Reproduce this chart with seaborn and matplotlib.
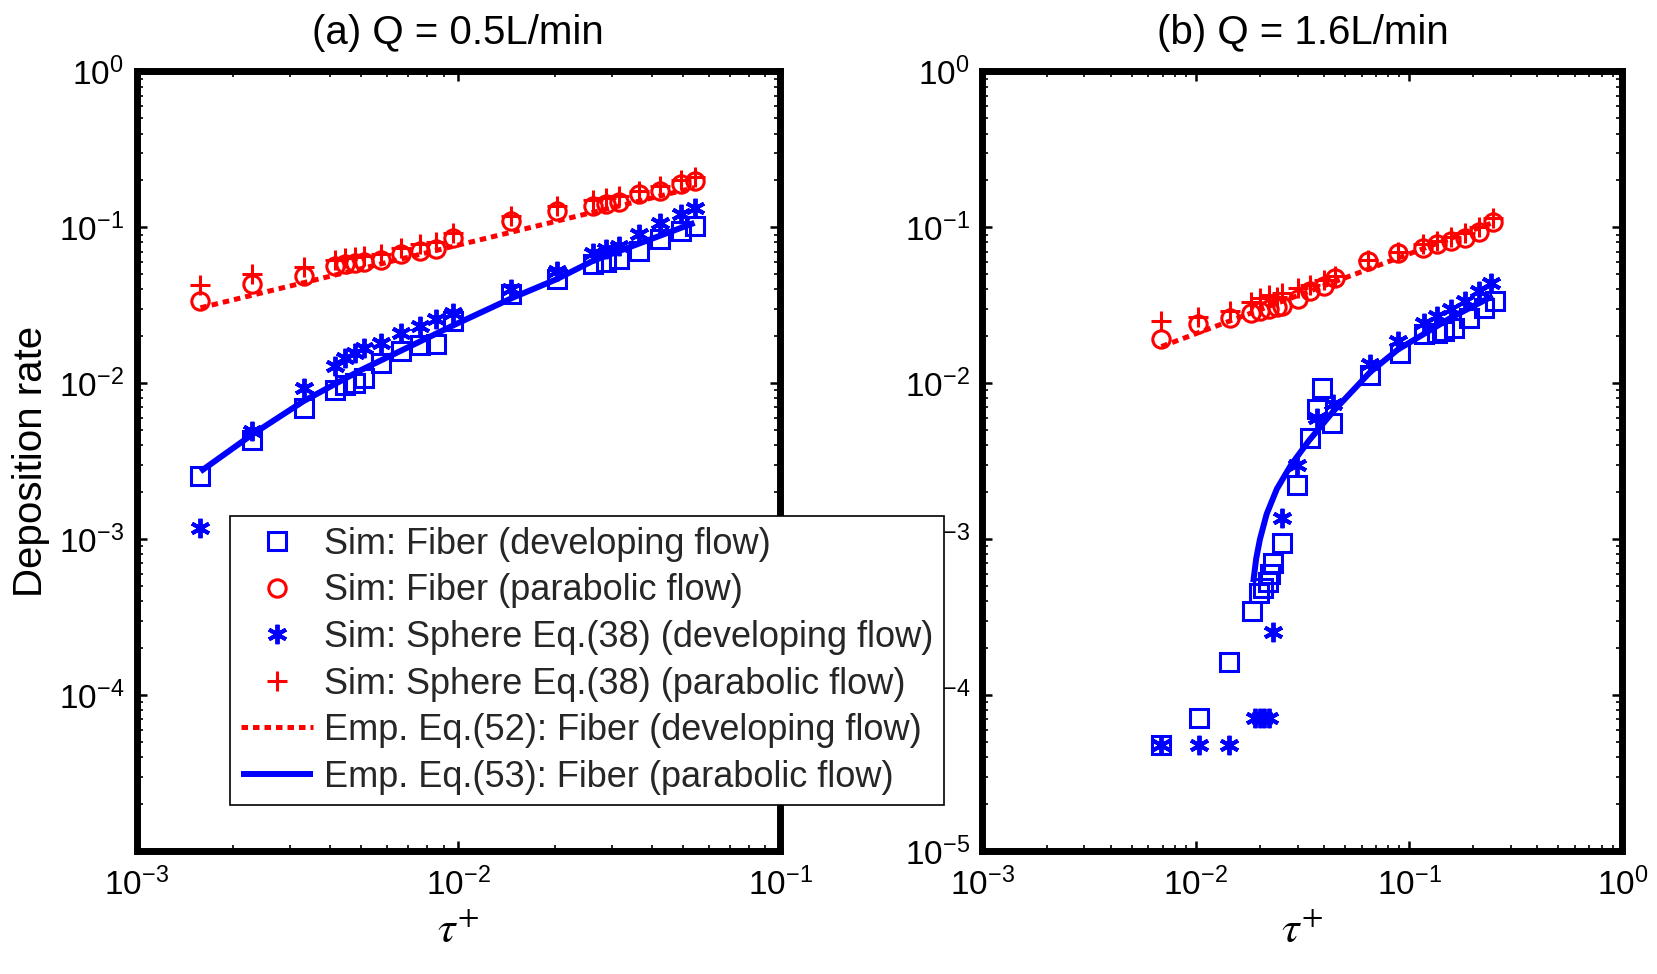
import numpy as np
import pandas as pd
import matplotlib
matplotlib.use("Agg")
import matplotlib.pyplot as plt
import seaborn as sns
from matplotlib.ticker import FixedLocator, FixedFormatter, LogLocator, NullFormatter

# ---------------- data ----------------
# (a) Q = 0.5 L/min
tau_a = [0.00158, 0.00229, 0.00331, 0.00414, 0.00445, 0.00478, 0.0051, 0.00573, 0.00665,
         0.0076, 0.0085, 0.0096, 0.01455, 0.0202, 0.0262, 0.0288, 0.0315, 0.0364, 0.0424,
         0.0492, 0.0542]
fiber_dev_a = [0.00253, 0.00435, 0.00695, 0.0091, 0.0098, 0.0100, 0.0108, 0.0135, 0.0161,
               0.0177, 0.0178, 0.025, 0.0373, 0.0465, 0.058, 0.060, 0.063, 0.0706, 0.084,
               0.095, 0.102]
fiber_par_a = [0.0337, 0.0431, 0.0488, 0.0566, 0.0580, 0.0590, 0.0600, 0.0620, 0.0673,
               0.0707, 0.0725, 0.086, 0.110, 0.1276, 0.138, 0.142, 0.146, 0.163, 0.172,
               0.190, 0.199]
sphere_dev_a = [0.00118, 0.00492, 0.0093, 0.0129, 0.0146, 0.0157, 0.0169, 0.0182, 0.0211,
                0.0233, 0.0257, 0.0283, 0.040, 0.0525, 0.0689, 0.073, 0.076, 0.0904, 0.107,
                0.1216, 0.134]
sphere_par_a = [0.043, 0.050, 0.056, 0.062, 0.064, 0.065, 0.066, 0.068, 0.074, 0.078, 0.080,
                0.092, 0.118, 0.137, 0.150, 0.155, 0.158, 0.172, 0.183, 0.202, 0.212]
emp52_x_a = [0.00158, 0.0542]
emp52_y_a = [0.0305, 0.18]
emp53_x_a = [0.00158, 0.00229, 0.00331, 0.00492, 0.0098, 0.01476, 0.0202, 0.0262, 0.0542]
emp53_y_a = [0.00272, 0.0047, 0.0077, 0.012, 0.0239, 0.0354, 0.0465, 0.061, 0.107]

# (b) Q = 1.6 L/min
tau_b_par = [0.00689, 0.01025, 0.01443, 0.0181, 0.0200, 0.0220, 0.0240, 0.0255, 0.0302,
             0.0345, 0.0401, 0.045, 0.0644, 0.0889, 0.116, 0.135, 0.157, 0.183, 0.213, 0.247]
fiber_par_b = [0.0191, 0.0239, 0.0263, 0.0283, 0.029, 0.030, 0.031, 0.0313, 0.0346, 0.0391,
               0.042, 0.0476, 0.061, 0.0689, 0.0741, 0.078, 0.082, 0.086, 0.093, 0.108]
sphere_par_b = [0.025, 0.0265, 0.029, 0.033, 0.035, 0.037, 0.036, 0.038, 0.041, 0.043,
                0.046, 0.049, 0.062, 0.070, 0.078, 0.082, 0.087, 0.092, 0.100, 0.115]
tau_b_fdev = [0.0069, 0.01035, 0.01436, 0.0183, 0.0199, 0.0207, 0.0219, 0.0223, 0.0229,
              0.0253, 0.0297, 0.0343, 0.0369, 0.0389, 0.0434, 0.0657, 0.0906, 0.118, 0.135,
              0.146, 0.163, 0.19, 0.225, 0.252]
fiber_dev_b = [4.8e-5, 7.08e-5, 1.64e-4, 3.47e-4, 4.5e-4, 4.84e-4, 5.34e-4, 6.0e-4, 7.0e-4,
               9.4e-4, 2.24e-3, 4.46e-3, 6.79e-3, 9.33e-3, 5.57e-3, 0.01137, 0.0157, 0.0206,
               0.021, 0.0216, 0.0227, 0.0263, 0.0305, 0.0337]
tau_b_sdev = [0.0069, 0.01035, 0.01436, 0.0190, 0.0200, 0.0210, 0.0220, 0.0229, 0.0253,
              0.0299, 0.0369, 0.0441, 0.0657, 0.0889, 0.118, 0.135, 0.157, 0.183, 0.213, 0.243]
sphere_dev_b = [4.8e-5, 4.8e-5, 4.8e-5, 7.08e-5, 7.08e-5, 7.08e-5, 7.08e-5, 2.55e-4, 1.36e-3,
                3.0e-3, 6.0e-3, 7.4e-3, 0.0132, 0.0187, 0.0245, 0.027, 0.0298, 0.0337, 0.039,
                0.0441]
emp52_x_b = [0.0069, 0.25]
emp52_y_b = [0.0172, 0.108]
emp53_x_b = [0.0186, 0.0192, 0.0200, 0.0215, 0.0240, 0.0280, 0.0340, 0.0441, 0.0657,
             0.0889, 0.157, 0.247]
emp53_y_b = [5.3e-4, 7.5e-4, 1.0e-3, 1.45e-3, 2.1e-3, 3.0e-3, 4.3e-3, 6.6e-3, 0.0118,
             0.0165, 0.0263, 0.0363]

titles = ["(a) Q = 0.5L/min", "(b) Q = 1.6L/min"]
legend_labels = ["Sim: Fiber (developing flow)",
                 "Sim: Fiber (parabolic flow)",
                 "Sim: Sphere Eq.(38) (developing flow)",
                 "Sim: Sphere Eq.(38) (parabolic flow)",
                 "Emp. Eq.(52): Fiber (developing flow)",
                 "Emp. Eq.(53): Fiber (parabolic flow)"]
ytick_vals = [1e-5, 1e-4, 1e-3, 1e-2, 1e-1, 1e0]
ytick_exp = ["-5", "-4", "-3", "-2", "-1", "0"]
xtick_vals_a = [1e-3, 1e-2, 1e-1]
xtick_exp_a = ["-3", "-2", "-1"]
xtick_vals_b = [1e-3, 1e-2, 1e-1, 1e0]
xtick_exp_b = ["-3", "-2", "-1", "0"]

# ---------------- style ----------------
sns.set_theme(style="white")
plt.rcParams['font.family'] = ['Liberation Sans', 'DejaVu Sans']
plt.rcParams['mathtext.fontset'] = 'custom'
plt.rcParams['mathtext.rm'] = 'Liberation Sans'
plt.rcParams['mathtext.it'] = 'Liberation Sans:italic'
plt.rcParams['mathtext.bf'] = 'Liberation Sans:bold'

BLUE = (0, 0, 1)
RED = (1, 0, 0)
ASTER = (6, 2, 0)

fig = plt.figure(figsize=(16.57, 9.74), dpi=100)
ax_a = fig.add_axes([0.0824, 0.1263, 0.3884, 0.8003])
ax_b = fig.add_axes([0.5929, 0.1263, 0.3862, 0.8003])


def sym(ax, x, y, marker, color, ms, mew, label):
    sns.lineplot(x=x, y=y, ax=ax, estimator=None, sort=False, legend=False,
                 marker=marker, linestyle='none', color=color,
                 markersize=ms, markeredgewidth=mew, markeredgecolor=color,
                 markerfacecolor='none', label=label)


def curve(ax, x, y, color, lw, ls, label):
    sns.lineplot(x=x, y=y, ax=ax, estimator=None, sort=False, legend=False,
                 color=color, linewidth=lw, linestyle=ls, label=label,
                 dash_capstyle='butt', solid_capstyle='butt')


for ax in (ax_a, ax_b):
    ax.set_xscale('log')
    ax.set_yscale('log')

# panel a
sym(ax_a, tau_a, fiber_dev_a, 's', BLUE, 13, 2.2, legend_labels[0])
sym(ax_a, tau_a, fiber_par_a, 'o', RED, 12.5, 2.2, legend_labels[1])
sym(ax_a, tau_a, sphere_dev_a, ASTER, BLUE, 14, 2.8, legend_labels[2])
sym(ax_a, tau_a, sphere_par_a, '+', RED, 14, 2.2, legend_labels[3])
curve(ax_a, emp52_x_a, emp52_y_a, RED, 3.6, (0, (1.3, 1.0)), legend_labels[4])
curve(ax_a, emp53_x_a, emp53_y_a, BLUE, 4.3, '-', legend_labels[5])

# panel b
sym(ax_b, tau_b_fdev, fiber_dev_b, 's', BLUE, 13, 2.2, legend_labels[0])
sym(ax_b, tau_b_par, fiber_par_b, 'o', RED, 12.5, 2.2, legend_labels[1])
sym(ax_b, tau_b_sdev, sphere_dev_b, ASTER, BLUE, 14, 2.8, legend_labels[2])
sym(ax_b, tau_b_par, sphere_par_b, '+', RED, 14, 2.2, legend_labels[3])
curve(ax_b, emp52_x_b, emp52_y_b, RED, 3.6, (0, (1.3, 1.0)), legend_labels[4])
curve(ax_b, emp53_x_b, emp53_y_b, BLUE, 4.3, '-', legend_labels[5])


def fmt(exps):
    return [r'$\mathregular{10^{%s}}$' % e for e in exps]


for ax, xv, xe, title in ((ax_a, xtick_vals_a, xtick_exp_a, titles[0]),
                          (ax_b, xtick_vals_b, xtick_exp_b, titles[1])):
    ax.set_xlim(xv[0], xv[-1])
    ax.set_ylim(1e-5, 1e0)
    ax.xaxis.set_major_locator(FixedLocator(xv))
    ax.xaxis.set_major_formatter(FixedFormatter(fmt(xe)))
    ax.yaxis.set_major_locator(FixedLocator(ytick_vals))
    ylabels = fmt(ytick_exp)
    if ax is ax_a:
        ylabels[0] = ''
    ax.yaxis.set_major_formatter(FixedFormatter(ylabels))
    ax.xaxis.set_minor_locator(LogLocator(base=10, subs=np.arange(2, 10), numticks=20))
    ax.yaxis.set_minor_locator(LogLocator(base=10, subs=np.arange(2, 10), numticks=20))
    ax.xaxis.set_minor_formatter(NullFormatter())
    ax.yaxis.set_minor_formatter(NullFormatter())
    ax.tick_params(which='both', direction='in', top=True, right=True, left=True,
                   bottom=True, colors='black', labelsize=24)
    ax.tick_params(which='major', length=7, width=1.8)
    ax.tick_params(which='minor', length=4, width=1.2)
    ax.tick_params(axis='x', which='major', pad=12)
    ax.tick_params(axis='y', which='major', pad=9)
    for sp in ax.spines.values():
        sp.set_visible(True)
        sp.set_color('black')
        sp.set_linewidth(5)
    ax.set_facecolor('white')
    ax.grid(False)
    ax.set_title(title, fontsize=29, pad=20, color='black')
    ax.set_xlabel(r'$\tau^{+}$', fontsize=32, math_fontfamily='stix', labelpad=6,
                  color='black')
    ax.set_ylabel('')

ax_a.set_ylabel('Deposition rate', fontsize=29, color='black')
ax_a.yaxis.set_label_coords(-0.134, 0.5)

handles = ax_a.get_lines()
leg = fig.legend(handles, legend_labels, loc='upper left',
                 bbox_to_anchor=(0.1388, 0.4702), fontsize=26, frameon=True,
                 fancybox=False, edgecolor='black', framealpha=1, facecolor='white',
                 borderpad=0.3, labelspacing=0.32, handlelength=2.0,
                 handletextpad=0.3, borderaxespad=0, numpoints=1)
leg.get_frame().set_linewidth(1.2)
leg.set_zorder(10)

fig.savefig('out.png', dpi=100, facecolor='white')
